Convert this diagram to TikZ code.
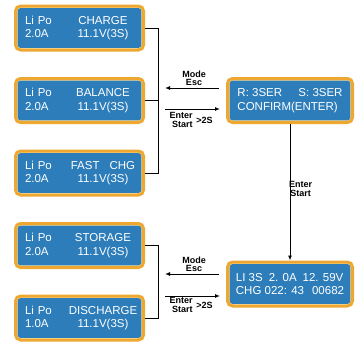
\documentclass[tikz,border=0pt]{standalone}
\usepackage{fontspec}
\setmainfont{Liberation Sans}
\usepackage{tikz}
\usetikzlibrary{positioning}
\usetikzlibrary{arrows.meta}
\definecolor{lcdblue}{RGB}{44,125,186}
\definecolor{rimorange}{RGB}{238,168,50}
\definecolor{rimlight}{RGB}{250,226,165}

\tikzset{
  lcd/.style={draw=rimorange,line width=3pt,fill=rimlight,rounded corners=5pt,
    minimum height=44pt,text=white,align=left,inner sep=0pt,
    font=\fontsize{11.5}{13.5}\selectfont,
    path picture={\fill[lcdblue,rounded corners=3pt]
      ([shift={(2.1pt,2.1pt)}]path picture bounding box.south west) rectangle
      ([shift={(-2.1pt,-2.1pt)}]path picture bounding box.north east);}},
  modebox/.style={lcd,minimum width=128pt,text width=109pt},
  statebox/.style={lcd,minimum width=125pt},
  wire/.style={line width=1pt},
  keyarrow/.style={wire,-{Latex[length=5pt,width=4pt]}},
  keylabel/.style={inner sep=0pt,font=\fontsize{9}{8.3}\selectfont\bfseries}
}
\newcommand{\lcdrow}[2]{\makebox[47pt][l]{#1}\makebox[62pt][c]{#2}}

\begin{document}
\begin{tikzpicture}[x=1pt,y=-1pt,node distance=72.5pt,on grid]
   \useasboundingbox (0,0) rectangle (355,341);

   % battery modes
   \node[modebox] (charge) at (79.5,28) {\lcdrow{Li Po}{CHARGE}\\\lcdrow{2.0A}{11.1V(3S)}};
   \node[modebox] (balance) [below=of charge] {\lcdrow{Li Po}{BALANCE}\\\lcdrow{2.0A}{11.1V(3S)}};
   \node[modebox] (fastchg) [below=of balance] {\lcdrow{Li Po}{FAST\hspace{10pt}CHG}\\\lcdrow{2.0A}{11.1V(3S)}};
   \node[modebox] (storage) [below=of fastchg] {\lcdrow{Li Po}{STORAGE}\\\lcdrow{2.0A}{11.1V(3S)}};
   \node[modebox] (discharge) [below=of storage] {\lcdrow{Li Po}{DISCHARGE}\\\lcdrow{1.0A}{11.1V(3S)}};

   % confirm and running screens
   \node[statebox] (confirm) [right=210.5pt of balance] {\makebox[61pt][l]{R: 3SER}S: 3SER\\CONFIRM(ENTER)};
   \node[statebox] (running) [below=183.5pt of confirm] {\mbox{LI 3S\hspace{6pt}2. 0A\hspace{6pt}12. 59V}\\\mbox{CHG 022: 43\hspace{8pt}00682}};

   % bus lines
   \coordinate (bus) at (158,0);
   \draw[wire] (charge.east) -- (charge.east -| bus) |- (fastchg.east);
   \draw[wire] (balance.east) -- (balance.east -| bus);
   \draw[wire] (storage.east) -- (storage.east -| bus) |- (discharge.east);

   % key arrows, upper group
   \coordinate (escA) at (219,88);  \coordinate (escB) at (165,88);
   \coordinate (entA) at (165,109); \coordinate (entB) at (220,109);
   \draw[keyarrow] (escA) -- (escB);
   \draw[keyarrow] (entA) -- (entB);
   \node[keylabel,align=center] (modeA) at (194,78) {Mode\\Esc};
   \node[keylabel,align=right] (startA) at (181,120) {Enter\\Start};
   \node[keylabel] (holdA) at (204.5,120) {>2S};

   % key arrows, lower group
   \coordinate (escC) at (219,274);  \coordinate (escD) at (165,274);
   \coordinate (entC) at (165,296); \coordinate (entD) at (220,296);
   \draw[keyarrow] (escC) -- (escD);
   \draw[keyarrow] (entC) -- (entD);
   \node[keylabel,align=center] (modeB) at (194,264.5) {Mode\\Esc};
   \node[keylabel,align=right] (startB) at (181,305) {Enter\\Start};
   \node[keylabel] (holdB) at (204.5,305) {>2S};

   % confirm -> running
   \draw[keyarrow] (confirm.south) -- (running.north);
   \node[keylabel,align=center] (startC) at (300.5,189) {Enter\\Start};
\end{tikzpicture}
\end{document}
